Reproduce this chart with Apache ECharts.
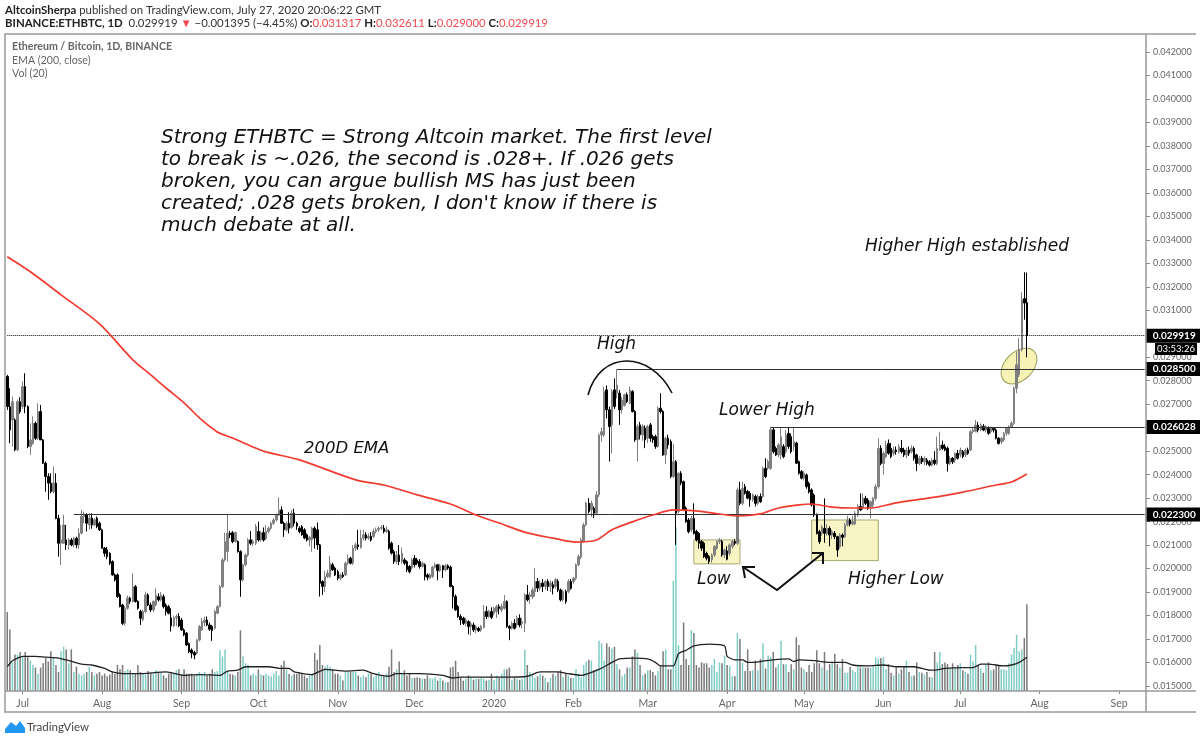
<!DOCTYPE html>
<html>
<head>
<meta charset="utf-8">
<title>ETHBTC</title>
<script src="https://cdn.jsdelivr.net/npm/echarts@6/dist/echarts.min.js"></script>
<style>
  html, body { margin: 0; background: #fff; }
  #main { width: 1200px; height: 741px; }
</style>
</head>
<body>
<div id="main"></div>
<script>
// daily rows: open, close, low, high (price x 1e-5), volume (arbitrary units)
const jun19 = [[2818,2690,2676,2825,91],[2690,2591,2534,2768,71],[2633,2711,2520,2733,33],[2633,2506,2500,2640,42],[2506,2711,2500,2720,42],[2711,2669,2660,2730,45]];
const jul19 = [[2690,2775,2680,2797,40],[2775,2690,2662,2832,45],[2690,2520,2513,2695,40],[2520,2548,2484,2619,35],[2534,2619,2527,2648,30],[2619,2555,2548,2626,27],[2555,2669,2548,2704,20],[2669,2548,2548,2697,27],[2548,2449,2445,2552,32],[2449,2392,2328,2456,38],[2392,2364,2293,2406,34],[2364,2328,2321,2406,46],[2328,2364,2320,2435,38],[2364,2214,2210,2406,30],[2214,2108,2051,2229,22],[2108,2122,2015,2186,46],[2108,2186,2105,2229,51],[2122,2101,2080,2186,48],[2101,2122,2080,2130,32],[2122,2101,2095,2130,48],[2101,2129,2090,2135,22],[2129,2101,2087,2136,28],[2101,2151,2084,2172,20],[2151,2222,2145,2250,18],[2222,2229,2193,2243,20],[2229,2193,2158,2236,22],[2186,2215,2165,2236,28],[2215,2186,2170,2236,22],[2186,2208,2180,2215,18],[2215,2179,2172,2222,20],[2193,2165,2160,2200,22]];
const aug19 = [[2165,2087,2085,2170,18],[2087,2065,2050,2092,20],[2080,2051,2040,2092,17],[2065,2023,2015,2070,19],[2030,1973,1970,2035,22],[1973,1952,1945,1980,20],[1973,1881,1875,1980,30],[1888,1838,1835,1895,25],[1845,1767,1760,1850,30],[1767,1831,1757,1840,23],[1831,1874,1825,1885,25],[1874,1860,1850,1880,24],[1860,1923,1855,1980,20],[1923,1860,1855,1930,20],[1860,1831,1825,1865,30],[1817,1788,1760,1825,22],[1782,1817,1775,1825,20],[1817,1888,1810,1902,19],[1888,1845,1840,1895,23],[1845,1824,1815,1855,21],[1824,1860,1815,1865,20],[1845,1888,1840,1916,24],[1880,1867,1860,1895,22],[1867,1888,1860,1900,21],[1880,1838,1830,1890,18],[1845,1817,1800,1852,15],[1838,1810,1805,1845,20],[1790,1756,1732,1831,22],[1756,1790,1750,1800,20],[1790,1796,1755,1805,24],[1796,1756,1750,1810,25]];
const sep19 = [[1781,1739,1735,1790,19],[1739,1718,1712,1745,25],[1725,1675,1670,1730,20],[1680,1647,1640,1685,20],[1653,1640,1618,1660,20],[1642,1632,1614,1650,18],[1640,1696,1634,1700,20],[1696,1753,1690,1760,22],[1739,1774,1735,1790,20],[1770,1781,1755,1795,22],[1781,1760,1755,1796,18],[1760,1742,1735,1770,20],[1753,1736,1692,1760,25],[1746,1817,1740,1825,22],[1810,1838,1805,1845,23],[1838,1923,1835,1930,47],[1923,2037,1918,2045,40],[2037,2115,2030,2153,48],[2073,2150,2030,2229,22],[2150,2144,2130,2160,20],[2153,2115,2108,2160,19],[2115,2153,2110,2158,18],[2115,2073,2068,2120,22],[2073,1952,1880,2078,70],[1952,2016,1945,2020,40],[2016,2058,2010,2065,32],[2058,2122,2050,2130,30],[2122,2108,2100,2160,18],[2108,2115,2095,2125,20],[2108,2179,2100,2190,18]];
const oct19 = [[2158,2122,2115,2200,25],[2122,2153,2115,2160,19],[2153,2122,2115,2175,18],[2128,2158,2120,2185,20],[2158,2172,2150,2180,18],[2172,2193,2165,2200,17],[2193,2207,2185,2215,20],[2207,2229,2200,2235,23],[2229,2250,2225,2304,18],[2250,2193,2190,2265,30],[2193,2165,2135,2200,35],[2165,2193,2158,2200,25],[2193,2172,2150,2240,20],[2175,2236,2170,2250,18],[2236,2193,2180,2255,20],[2193,2180,2165,2200,20],[2172,2158,2150,2180,22],[2178,2144,2140,2185,20],[2165,2130,2125,2172,18],[2144,2122,2115,2150,15],[2122,2134,2095,2140,18],[2122,2172,2072,2178,20],[2172,2130,2085,2180,44],[2165,2101,2080,2196,36],[2101,1938,1881,2105,53],[1945,1924,1888,1950,30],[1924,1966,1900,1990,28],[1966,1980,1960,1995,30],[1966,2023,1960,2054,28],[2016,1995,1990,2025,25],[2002,1973,1968,2008,20]];
const nov19 = [[1987,1959,1950,1995,20],[1959,1973,1950,1980,18],[1973,1966,1960,1985,12],[1973,2023,1968,2030,22],[2023,2044,2015,2060,22],[2044,2023,2018,2050,22],[2023,2087,2015,2100,22],[2087,2101,2075,2110,22],[2101,2094,2080,2165,18],[2090,2130,2085,2165,16],[2130,2144,2120,2165,18],[2144,2130,2120,2155,16],[2130,2137,2122,2150,20],[2137,2122,2115,2155,20],[2137,2158,2130,2170,16],[2158,2165,2150,2175,20],[2165,2172,2155,2180,22],[2172,2175,2165,2185,18],[2172,2158,2150,2186,17],[2158,2165,2150,2180,20],[2158,2087,2080,2165,28],[2108,2066,2060,2115,48],[2072,2030,2020,2080,22],[2030,2058,2020,2075,25],[2058,2030,2015,2100,34],[2030,2066,2020,2090,20],[2037,2023,2015,2045,24],[2030,1995,1985,2035,18],[2009,1987,1980,2015,20],[2002,2037,1995,2045,15]];
const dec19 = [[2044,2016,2005,2058,15],[2037,2023,2015,2045,16],[2030,2009,2000,2040,15],[2009,2023,2005,2030,14],[2016,1966,1950,2022,14],[1973,1963,1950,1980,18],[1959,1973,1955,1980,15],[1966,2006,1960,2012,14],[2006,2016,2000,2025,16],[2016,1992,1950,2020,12],[1992,2012,1985,2020,15],[2012,1995,1960,2016,12],[1995,2012,1988,2020,10],[2012,2002,1995,2018,10],[2006,1924,1920,2012,27],[1924,1881,1830,1930,28],[1881,1824,1820,1890,35],[1838,1796,1790,1845,22],[1796,1782,1760,1805,15],[1789,1767,1760,1795,12],[1767,1782,1755,1790,14],[1774,1753,1720,1780,18],[1753,1765,1715,1775,15],[1760,1739,1730,1770,13],[1739,1752,1725,1760,14],[1745,1736,1730,1752,14],[1739,1753,1730,1760,15],[1750,1817,1745,1845,14],[1817,1796,1785,1840,12],[1796,1817,1790,1825,13],[1817,1793,1785,1835,20]];
const jan20 = [[1810,1831,1800,1838,13],[1817,1838,1790,1845,18],[1838,1830,1805,1848,15],[1824,1838,1815,1850,20],[1831,1860,1825,1888,25],[1860,1753,1748,1865,25],[1753,1746,1695,1760,27],[1746,1767,1740,1775,13],[1767,1746,1740,1785,15],[1760,1789,1750,1800,14],[1789,1760,1750,1805,13],[1767,1774,1745,1790,14],[1767,1888,1730,1895,48],[1888,1867,1860,1930,30],[1880,1888,1850,1900,22],[1880,1909,1870,1920,20],[1902,1945,1880,2002,15],[1945,1917,1900,1960,17],[1917,1938,1905,1950,20],[1938,1924,1900,1955,18],[1924,1945,1910,1950,15],[1945,1924,1905,1955,10],[1924,1938,1900,1950,15],[1931,1917,1890,1945,20],[1924,1952,1915,1960,18],[1945,1909,1900,1955,22],[1909,1867,1860,1915,24],[1867,1902,1860,1910,16],[1902,1860,1850,1910,20],[1902,1945,1895,1955,18],[1945,1916,1910,1955,15]];
const feb20 = [[1945,1959,1935,1965,15],[1959,2016,1950,2022,25],[2016,2051,2010,2060,20],[2049,2122,2040,2130,16],[2115,2186,2110,2195,30],[2186,2279,2180,2285,34],[2278,2243,2235,2300,36],[2250,2278,2220,2290,35],[2257,2236,2215,2265,24],[2236,2314,2230,2330,25],[2314,2569,2305,2575,58],[2569,2583,2540,2600,55],[2569,2754,2560,2775,35],[2761,2676,2640,2780,55],[2676,2605,2456,2690,51],[2612,2754,2490,2765,49],[2761,2690,2680,2810,51],[2747,2782,2725,2849,31],[2747,2676,2612,2760,25],[2676,2718,2660,2730,17],[2695,2740,2690,2745,20],[2740,2711,2705,2750,27],[2704,2761,2700,2775,27],[2754,2669,2665,2760,40],[2669,2548,2540,2675,48],[2548,2605,2456,2615,44],[2612,2570,2550,2625,30],[2570,2605,2545,2615,18],[2598,2548,2513,2610,20]];
const mar20 = [[2555,2605,2535,2612,24],[2612,2555,2540,2620,24],[2562,2548,2535,2570,22],[2562,2520,2510,2570,18],[2520,2683,2515,2690,23],[2683,2669,2660,2747,30],[2669,2484,2480,2675,46],[2484,2555,2445,2562,48],[2555,2527,2510,2570,25],[2541,2392,2385,2550,25],[2392,2455,2385,2530,127],[2455,2236,2101,2462,189],[2243,2406,2235,2410,53],[2406,2365,2355,2415,30],[2370,2250,2245,2375,79],[2257,2200,2195,2265,37],[2207,2158,2150,2215,30],[2165,2214,2155,2225,70],[2214,2150,2145,2278,67],[2158,2122,2115,2165,30],[2150,2108,2085,2155,27],[2115,2087,2075,2122,33],[2108,2051,2045,2115,32],[2065,2044,2035,2072,32],[2051,2030,2020,2058,27],[2037,2058,2025,2065,30],[2058,2094,2050,2100,37],[2087,2115,2080,2120,22],[2115,2122,2105,2130,33],[2115,2058,2050,2122,32],[2058,2079,2045,2085,41]];
const apr20 = [[2075,2040,2035,2095,30],[2065,2101,2055,2108,29],[2095,2115,2085,2122,17],[2115,2108,2100,2125,17],[2108,2335,2100,2345,67],[2335,2278,2270,2370,60],[2278,2342,2270,2370,33],[2349,2321,2315,2360,23],[2328,2300,2295,2335,48],[2321,2293,2264,2330,23],[2293,2314,2285,2320,24],[2307,2278,2265,2315,35],[2278,2307,2270,2315,24],[2307,2285,2280,2320,37],[2307,2427,2300,2435,55],[2427,2392,2385,2470,26],[2427,2456,2420,2465,41],[2427,2591,2420,2603,39],[2591,2498,2490,2600,45],[2512,2484,2480,2520,27],[2484,2527,2474,2535,31],[2484,2562,2465,2603,58],[2520,2477,2470,2530,31],[2498,2569,2490,2590,31],[2576,2520,2510,2603,22],[2562,2498,2490,2575,31],[2520,2541,2500,2603,25],[2534,2449,2445,2540,62],[2456,2406,2400,2460,53],[2413,2385,2380,2420,27]];
const may20 = [[2385,2406,2375,2415,25],[2399,2349,2340,2405,22],[2363,2327,2320,2370,30],[2335,2271,2265,2342,22],[2313,2228,2220,2320,32],[2228,2150,2145,2235,47],[2157,2115,2105,2165,32],[2150,2178,2140,2185,27],[2171,2150,2110,2299,45],[2150,2171,2140,2190,24],[2171,2143,2095,2180,31],[2143,2157,2125,2165,33],[2150,2136,2125,2160,43],[2136,2079,2050,2140,31],[2093,2143,2085,2150,27],[2143,2133,2095,2150,37],[2136,2186,2130,2195,21],[2186,2207,2180,2225,21],[2207,2190,2180,2215,28],[2190,2200,2185,2225,24],[2190,2235,2185,2245,22],[2228,2264,2220,2275,28],[2264,2250,2245,2320,27],[2257,2299,2250,2320,27],[2299,2278,2270,2310,27],[2292,2256,2250,2300,27],[2264,2285,2214,2290,27],[2271,2299,2260,2305,30],[2299,2349,2290,2360,39],[2349,2512,2340,2555,37],[2512,2448,2440,2525,38]];
const jun20 = [[2448,2491,2400,2500,39],[2476,2526,2470,2545,25],[2533,2491,2485,2550,31],[2512,2477,2470,2535,21],[2491,2505,2480,2520,18],[2505,2498,2485,2520,27],[2498,2519,2490,2530,20],[2512,2498,2490,2548,25],[2505,2484,2475,2515,28],[2484,2505,2470,2515,35],[2505,2491,2480,2520,22],[2498,2512,2490,2525,17],[2512,2470,2460,2520,18],[2484,2448,2415,2490,33],[2448,2470,2440,2480,22],[2470,2455,2445,2480,21],[2455,2470,2440,2478,19],[2462,2448,2440,2470,22],[2455,2441,2435,2462,16],[2441,2462,2435,2470,16],[2462,2448,2440,2500,45],[2448,2512,2440,2562,33],[2505,2526,2500,2583,45],[2526,2512,2505,2545,31],[2519,2505,2500,2530,33],[2512,2448,2413,2520,31],[2448,2470,2440,2480,26],[2470,2455,2445,2475,32],[2462,2491,2450,2495,27],[2491,2470,2465,2505,30]];
const jul20 = [[2484,2505,2475,2515,32],[2498,2477,2470,2505,24],[2484,2505,2475,2512,22],[2505,2491,2485,2515,20],[2505,2583,2500,2590,42],[2583,2590,2575,2600,34],[2585,2611,2580,2633,53],[2611,2590,2580,2625,30],[2590,2611,2585,2618,26],[2605,2590,2585,2615,21],[2590,2604,2580,2612,30],[2597,2576,2570,2605,33],[2583,2597,2575,2605,24],[2597,2590,2580,2603,25],[2590,2555,2550,2597,30],[2555,2533,2528,2560,30],[2540,2555,2530,2560,25],[2548,2576,2540,2582,25],[2576,2597,2565,2603,24],[2575,2604,2570,2610,32],[2604,2619,2600,2628,42],[2619,2768,2612,2775,50],[2768,2868,2747,2925,65],[2825,2932,2815,2981,46],[2932,3147,2925,3177,48],[3150,3131,3060,3262,61],[3132,2992,2900,3261,100]];

// bars whose volume column is teal even though the candle reads as down
const tealVolumeBars = [261];

// 200 day EMA readings: bar number, price x 1e-5
const emaBars = [0,9,21,36,49,56,62,69,75,82,88,95,101,114,136,147,160,173,183,192,203,213,222,230,236,244,252,260,269,275,285,294,301,309,314,321,330,337,347,360,373,386,392,398];
const emaValues = [3328,3264,3166,3042,2889,2825,2769,2706,2642,2582,2556,2522,2497,2463,2378,2356,2314,2275,2228,2194,2152,2130,2113,2122,2165,2199,2228,2250,2246,2237,2224,2233,2258,2271,2275,2263,2258,2258,2280,2301,2326,2356,2369,2403];

// 20 day volume average readings
const volMaBars = [0,2,6,11,15,20,24,29,33,38,41,45,51,62,69,75,83,86,90,93,102,107,110,112,119,124,132,139,143,149,152,161,170,174,177,185,195,203,208,215,219,224,231,236,239,245,250,253,255,260,262,265,268,274,280,281,284,287,289,294,299,305,307,309,315,321,327,330,336,342,347,354,360,362,366,373,377,380,383,389,392,395,398];
const volMaValues = [28,35,40,40,39,38,35,31,30,26,22,20,20,22,18,19,18,23,24,28,28,26,26,22,19,25,23,24,20,17,20,20,18,15,16,16,16,17,22,22,20,18,25,33,37,38,37,33,29,29,43,47,52,54,52,40,36,36,33,34,36,37,34,36,35,33,33,30,29,30,28,28,24,24,26,27,27,31,31,29,30,33,39];

const yTicks = [0.015,0.016,0.017,0.018,0.019,0.02,0.021,0.022,0.023,0.024,0.025,0.026,0.027,0.028,0.029,0.03,0.031,0.032,0.033,0.034,0.035,0.036,0.037,0.038,0.039,0.04,0.041,0.042];
const monthDates = ['2019-07-01','2019-08-01','2019-09-01','2019-10-01','2019-11-01','2019-12-01','2020-01-01','2020-02-01','2020-03-01','2020-04-01','2020-05-01','2020-06-01','2020-07-01','2020-08-01','2020-09-01'];
const monthLabels = ['Jul','Aug','Sep','Oct','Nov','Dec','2020','Feb','Mar','Apr','May','Jun','Jul','Aug','Sep'];

// horizontal levels: price, first bar
const levelPrices = [0.029919,0.0285,0.026028,0.0223];
const levelStart = [0,238,298,26];

const rows = [].concat(jun19,jul19,aug19,sep19,oct19,nov19,dec19,jan20,feb20,mar20,apr20,may20,jun20,jul20);
const TOTAL_BARS = 445;

let categories = [];
for (let i = 0; i < TOTAL_BARS; i++) {
    categories.push(new Date(Date.UTC(2019, 5, 25 + i)).toISOString().slice(0, 10));
}

const candles = rows.map(r => r.slice(0, 4).map(v => v * 1e-5));
const volumes = rows.map((r, i) => {
    const up = r[1] >= r[0] || tealVolumeBars.includes(i);
    return { value: r[4], itemStyle: { color: up ? '#80cdc5' : '#7a7a7a' } };
});

function sparse(bars, values, scale) {
    let out = new Array(TOTAL_BARS).fill(null);
    bars.forEach((b, i) => { out[b] = values[i] * scale; });
    return out;
}

const isMonth = (index, value) => monthDates.includes(value);

const levelLines = levelPrices.map((p, i) => [
    {
        name: p.toFixed(6),
        coord: [levelStart[i], p],
        lineStyle: i === 0 ? { type: 'dotted', color: '#111', width: 1 } : { type: 'solid', color: '#333', width: 1 }
    },
    { coord: [TOTAL_BARS - 1, p] }
]);

const FONT_NOTE = '"DejaVu Sans", sans-serif';
const FONT_UI = 'Lato, sans-serif';

function note(text, x, y, size) {
    return {
        type: 'text', x: x, y: y, z: 20, silent: true,
        style: { text: text, fill: '#111', font: 'italic ' + size + 'px ' + FONT_NOTE, textVerticalAlign: 'middle' }
    };
}

const mainNote = [
    'Strong ETHBTC = Strong Altcoin market. The first level',
    'to break is ~.026, the second is .028+. If .026 gets',
    'broken, you can argue bullish MS has just been',
    'created; .028 gets broken, I don\'t know if there is',
    'much debate at all.'
];

const graphics = [
    // frame, the right edge of the original has no visible line
    { type: 'polyline', z: 15, silent: true, shape: { points: [[1196,34],[5,34],[5,712],[1196,712]] }, style: { fill: 'none', stroke: '#999', lineWidth: 1.5 } },
    { type: 'line', z: 15, silent: true, shape: { x1: 1146, y1: 34, x2: 1146, y2: 712 }, style: { stroke: '#999', lineWidth: 1.5 } },
    { type: 'line', z: 15, silent: true, shape: { x1: 5, y1: 691, x2: 1196, y2: 691 }, style: { stroke: '#999', lineWidth: 1.5 } },
    // header
    {
        type: 'text', x: 5, y: 10, z: 20, silent: true,
        style: {
            text: '{b|AltcoinSherpa} published on TradingView.com, July 27, 2020 20:06:22 GMT',
            font: '11.4px ' + FONT_UI, fill: '#333', textVerticalAlign: 'middle',
            rich: { b: { font: '700 11.4px ' + FONT_UI, fill: '#222' } }
        }
    },
    {
        type: 'text', x: 5, y: 23, z: 20, silent: true,
        style: {
            text: '{b|BINANCE:ETHBTC, 1D}  0.029919 {r|▼} −0.001395 (−4.45%) {b|O:}{r|0.031317} {b|H:}{r|0.032611} {b|L:}{r|0.029000} {b|C:}{r|0.029919}',
            font: '11.4px ' + FONT_UI, fill: '#333', textVerticalAlign: 'middle',
            rich: { b: { font: '700 11.4px ' + FONT_UI, fill: '#222' }, r: { font: '11.4px ' + FONT_UI, fill: '#f0484e' } }
        }
    },
    // legend
    { type: 'text', x: 12, y: 47, z: 20, silent: true, style: { text: 'Ethereum / Bitcoin, 1D, BINANCE', font: '700 10.6px ' + FONT_UI, fill: '#666', textVerticalAlign: 'middle' } },
    { type: 'text', x: 12, y: 61, z: 20, silent: true, style: { text: 'EMA (200, close)', font: '10.6px ' + FONT_UI, fill: '#666', textVerticalAlign: 'middle' } },
    { type: 'text', x: 12, y: 74, z: 20, silent: true, style: { text: 'Vol (20)', font: '10.6px ' + FONT_UI, fill: '#666', textVerticalAlign: 'middle' } },
    // notes
    note(mainNote[0], 161, 138, 20),
    note(mainNote[1], 161, 160, 20),
    note(mainNote[2], 161, 182, 20),
    note(mainNote[3], 161, 204, 20),
    note(mainNote[4], 161, 226, 20),
    note('Higher High established', 865, 247, 17),
    note('High', 597, 345, 17),
    note('Lower High', 719, 411, 17),
    note('200D EMA', 304, 449, 16.5),
    note('Low', 697, 580, 17),
    note('Higher Low', 848, 580, 17),
    // hand drawn bits
    { type: 'ellipse', z: 1, silent: true, x: 1019, y: 366, rotation: Math.PI / 4, shape: { cx: 0, cy: 0, rx: 21, ry: 14 }, style: { fill: '#f7f3b5', stroke: '#9c9c5a', lineWidth: 1 } },
    { type: 'bezierCurve', z: 20, silent: true, shape: { x1: 588, y1: 395, x2: 672, y2: 393, cpx1: 600, cpy1: 350, cpx2: 650, cpy2: 350 }, style: { fill: 'none', stroke: '#111', lineWidth: 1.6 } },
    { type: 'polyline', z: 20, silent: true, shape: { points: [[743,567],[777,590],[823,553]] }, style: { fill: 'none', stroke: '#111', lineWidth: 2 } },
    { type: 'polyline', z: 20, silent: true, shape: { points: [[755,567],[743,567],[745,578]] }, style: { fill: 'none', stroke: '#111', lineWidth: 2 } },
    { type: 'polyline', z: 20, silent: true, shape: { points: [[812,553],[823,553],[823,564]] }, style: { fill: 'none', stroke: '#111', lineWidth: 2 } },
    // countdown box
    { type: 'rect', z: 18, silent: true, shape: { x: 1155, y: 343, width: 42, height: 12 }, style: { fill: '#000' } },
    { type: 'text', x: 1176, y: 349, z: 19, silent: true, style: { text: '03:53:26', fill: '#fff', font: '9.5px ' + FONT_UI, textAlign: 'center', textVerticalAlign: 'middle' } },
    // logo
    { type: 'polygon', z: 20, silent: true, shape: { points: [[5,733],[5,729],[11,722],[16,726],[20,721],[25,728],[25,733]] }, style: { fill: '#2196f3' } },
    { type: 'text', x: 27, y: 727, z: 20, silent: true, style: { text: 'TradingView', fill: '#444', font: '11.5px ' + FONT_UI, textVerticalAlign: 'middle' } }
];

const option = {
    animation: false,
    backgroundColor: '#fff',
    grid: { left: 6, right: 54, top: 34, bottom: 50 },
    xAxis: {
        type: 'category',
        data: categories,
        boundaryGap: true,
        axisLine: { show: false },
        axisTick: { show: true, interval: isMonth, alignWithLabel: true, length: 3, lineStyle: { color: '#888' } },
        axisLabel: {
            interval: isMonth,
            color: '#666',
            fontFamily: FONT_UI,
            fontSize: 10.5,
            margin: 7,
            formatter: value => monthLabels[monthDates.indexOf(value)] || ''
        },
        splitLine: { show: false }
    },
    yAxis: [
        {
            type: 'value',
            position: 'right',
            scale: true,
            min: 0.014787,
            max: 0.042767,
            axisLine: { show: false },
            axisTick: { show: true, customValues: yTicks, length: 4, lineStyle: { color: '#888' } },
            axisLabel: {
                customValues: yTicks,
                color: '#666',
                fontFamily: FONT_UI,
                fontSize: 9,
                margin: 7,
                formatter: v => v.toFixed(6)
            },
            splitLine: { show: false }
        },
        // volume panel shares the grid, its scale stays hidden
        { type: 'value', show: false, min: 0, max: 758, splitLine: { show: false } }
    ],
    series: [
        {
            name: 'Vol',
            type: 'bar',
            yAxisIndex: 1,
            data: volumes,
            barWidth: 1.5,
            z: 1
        },
        {
            name: 'Vol MA',
            type: 'line',
            yAxisIndex: 1,
            data: sparse(volMaBars, volMaValues, 1),
            connectNulls: true,
            smooth: 0.2,
            showSymbol: false,
            symbol: 'none',
            lineStyle: { color: '#222', width: 1.3 },
            z: 3
        },
        {
            name: 'ETHBTC',
            type: 'candlestick',
            data: candles,
            barWidth: 2,
            itemStyle: { color: '#808080', color0: '#000', borderColor: '#808080', borderColor0: '#000', borderWidth: 1 },
            z: 4,
            markArea: {
                silent: true,
                itemStyle: { color: '#f8f4c4', borderColor: '#a8a870', borderWidth: 1 },
                data: [
                    [{ coord: [268, 0.02122] }, { coord: [286, 0.0202] }],
                    [{ coord: [314, 0.02207] }, { coord: [340, 0.02034] }]
                ]
            },
            markLine: {
                silent: true,
                symbol: 'none',
                animation: false,
                label: {
                    show: true,
                    position: 'end',
                    formatter: '{b}',
                    distance: 1,
                    backgroundColor: '#000',
                    color: '#fff',
                    fontFamily: FONT_UI,
                    fontSize: 10,
                    fontWeight: 700,
                    padding: [2, 7]
                },
                data: levelLines
            }
        },
        {
            name: 'EMA 200',
            type: 'line',
            data: sparse(emaBars, emaValues, 1e-5),
            connectNulls: true,
            smooth: 0.3,
            showSymbol: false,
            symbol: 'none',
            lineStyle: { color: '#f23b30', width: 1.7 },
            z: 5
        }
    ],
    graphic: { elements: graphics }
};

let plot = echarts.init(document.querySelector('#main'));
plot.setOption(option);
</script>
</body>
</html>
